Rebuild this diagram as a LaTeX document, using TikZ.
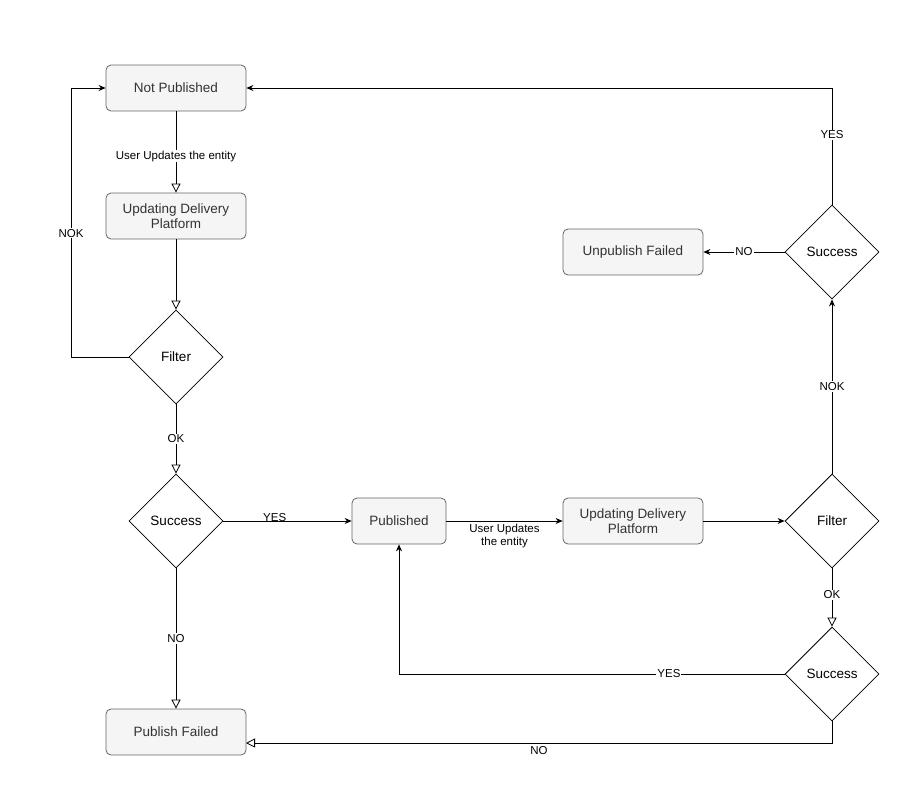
\documentclass[tikz,border=0pt]{standalone}
\usepackage{fontspec}
\setmainfont{Liberation Sans}
\usetikzlibrary{arrows.meta,shapes.geometric}
\definecolor{bfill}{HTML}{F5F5F5}
\definecolor{bdraw}{HTML}{666666}
\definecolor{btext}{HTML}{333333}
\begin{document}
\begin{tikzpicture}[x=1pt,y=-1pt,
  box/.style={draw=bdraw,fill=bfill,rounded corners=5pt,minimum width=140pt,minimum height=46pt,text=btext,font=\fontsize{13.5}{15}\selectfont,align=center,inner sep=0pt},
  dia/.style={draw,fill=white,diamond,minimum width=94pt,minimum height=94pt,inner sep=0pt,font=\fontsize{13.5}{15}\selectfont},
  lbl/.style={fill=white,font=\fontsize{11.5}{13}\selectfont,inner sep=1pt,align=center},
  oa/.style={-{Triangle[open,length=9pt,width=9pt]}},
  fa/.style={-{Stealth[length=7pt,width=6pt]}},
  line width=0.8pt]
\useasboundingbox (0,0) rectangle (923,803);
\node[box] (np) at (176,88) {Not Published};
\node[box] (u1) at (176,216) {Updating Delivery\\Platform};
\node[dia] (f1) at (176,357) {Filter};
\node[dia] (s1) at (176,521) {Success};
\node[box] (pf) at (176,732) {Publish Failed};
\node[box,minimum width=94pt] (pub) at (399,521) {Published};
\node[box] (u2) at (633,521) {Updating Delivery\\Platform};
\node[dia] (f2) at (832,521) {Filter};
\node[dia] (s3) at (832,674) {Success};
\node[dia] (s2) at (832,252) {Success};
\node[box] (uf) at (633,252) {Unpublish Failed};
\coordinate (c1) at (71,357);
\coordinate (c2) at (71,88);
\coordinate (c3) at (399,674);
\coordinate (c4) at (832,743);
\coordinate (c5) at (246,743);
\coordinate (c6) at (832,88);

\draw[oa] (np) -- node[lbl,pos=0.55]{User Updates the entity} (u1);
\draw[oa] (u1) -- (f1);
\draw[fa] (f1.west) -- (c1) -- node[lbl,pos=0.46]{NOK} (c2) -- (np.west);
\draw[oa] (f1) -- node[lbl,pos=0.5]{OK} (s1);
\draw[fa] (s1) -- node[lbl,pos=0.4,yshift=3pt,fill=none]{YES} (pub);
\draw[oa] (s1) -- node[lbl,pos=0.5]{NO} (pf);
\draw[fa] (pub) -- node[below,lbl,fill=none,yshift=-2pt]{User Updates\\the entity} (u2);
\draw[fa] (u2) -- (f2);
\draw[oa] (f2) -- node[lbl,pos=0.45]{OK} (s3);
\draw[fa] (s3.west) -- node[lbl,pos=0.3]{YES} (c3) -- (pub.south);
\draw[oa] (s3.south) -- (c4) -- node[below,lbl,fill=none,pos=0.5,yshift=-2pt]{NO} (c5);
\draw[fa] (f2) -- node[lbl]{NOK} (s2);
\draw[fa] (s2) -- node[lbl]{NO} (uf);
\draw[fa] (s2.north) -- node[lbl,pos=0.6]{YES} (c6) -- (np.east);
\end{tikzpicture}
\end{document}
